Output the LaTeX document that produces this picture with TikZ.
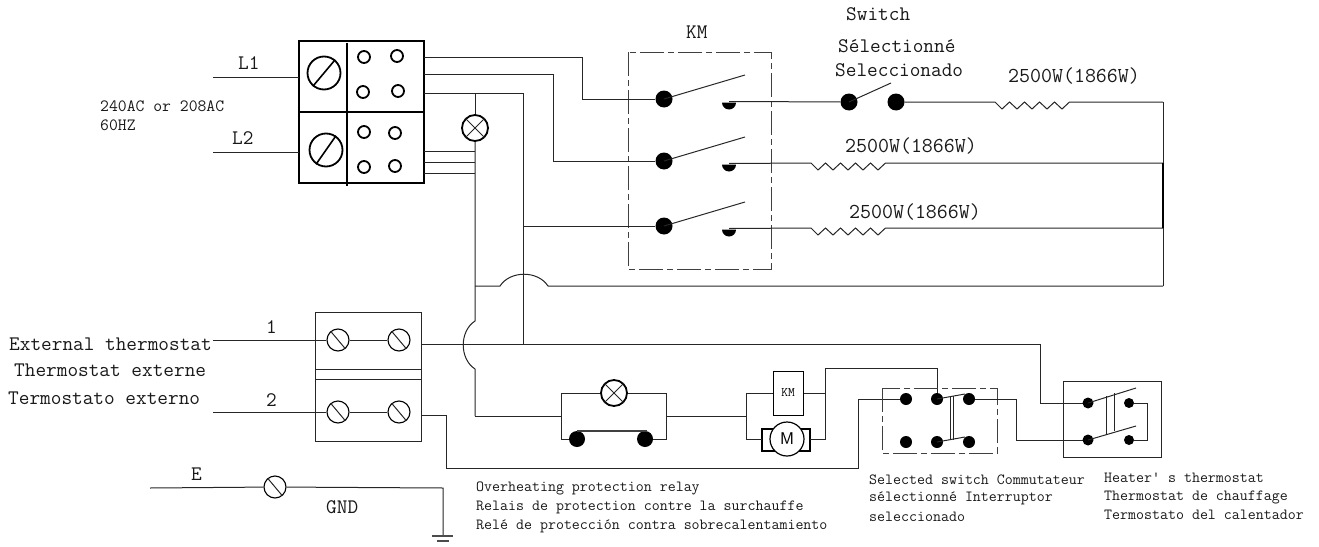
\documentclass[tikz,border=0pt]{standalone}
\newcommand{\bigtxt}{\ttfamily\fontsize{20.7}{24}\selectfont}
\newcommand{\wattxt}{\ttfamily\fontsize{21.3}{24}\selectfont}
\newcommand{\midtxt}{\ttfamily\fontsize{17.2}{20}\selectfont}
\newcommand{\smalltxt}{\ttfamily\fontsize{15.5}{19}\selectfont}
\newcommand{\tinytxt}{\ttfamily\fontsize{13}{14}\selectfont}
\newcommand{\zigzag}{ -- ++(7,7) -- ++(7.5,-7) -- ++(7.5,7) -- ++(7.5,-7) -- ++(7.5,7) -- ++(7.5,-7) -- ++(7.5,7) -- ++(7.5,-7) -- ++(7.5,7) -- ++(7.5,-7)}
\tikzset{
  wire/.style={line width=1pt,black!85},
  heavy/.style={line width=2pt,black},
  dashbox/.style={line width=1pt,black!75,dash pattern=on 24pt off 4pt on 6pt off 4pt},
  contact/.style={circle,fill=black,inner sep=0pt,minimum size=#1},
  bigscrew/.style={circle,draw,line width=1.8pt,inner sep=0pt,minimum size=33pt},
  hole/.style={circle,draw,line width=1.8pt,inner sep=0pt,minimum size=12pt},
  screw/.style={circle,draw,line width=1.1pt,inner sep=0pt,minimum size=22pt},
  lamp/.style={circle,draw,line width=1.8pt,inner sep=0pt,minimum size=26pt},
  lbl/.style={inner sep=0pt,anchor=west,text=black!90},
}
\begin{document}
\begin{tikzpicture}[x=1pt,y=-1pt]
\useasboundingbox (0,0) rectangle (1319,546);
% ---- main terminal block
\draw[heavy] (299,41) rectangle (424,183);
\draw[heavy] (299,112) -- (424,112);
\draw[line width=1.5pt] (347,43) -- (347,186);
\node[bigscrew] (S1) at (324,73) {};
\node[bigscrew] (S2) at (326,150) {};
\draw[line width=1.6pt] (S1.-130) -- (S1.50);
\draw[line width=1.6pt] (S2.-125) -- (S2.55);
\foreach \n/\x/\y in {a/364/57,b/397/56,c/363/92,d/398/91,e/364/132,f/395/133,g/364/167,h/395/166}
  \node[hole] (H\n) at (\x,\y) {};
\coordinate (L1s) at (213,77);
\coordinate (L2s) at (213,152);
\draw[wire] (L1s) -- (299,77);
\draw[wire] (L2s) -- (299,152);
\node[lbl,font=\bigtxt] (tL1) at (238,63) {L1};
\node[lbl,font=\bigtxt] (tL2) at (232,138) {L2};
\node[lbl,font=\midtxt] (tV1) at (100,106) {240AC or 208AC};
\node[lbl,font=\midtxt] (tV2) at (100,125) {60HZ};
% ---- KM contactor
\draw[dashbox] (628,52) rectangle (771,269);
\node[lbl,font=\bigtxt] (tKM) at (686,32) {KM};
\foreach \n/\y in {1/99,2/161,3/226}{
  \node[contact=17pt] (K\n) at (664,\y) {};
  \coordinate (B\n) at (745,\y-24);
  \draw[wire] (K\n.center) -- (B\n);
  \fill (722,\y+3.5) arc (180:0:7) -- cycle;
  \coordinate (R\n) at (729,\y+2.5);
}
\draw[wire] (424,57) -- (582,57) -- (582,99) -- (K1);
\draw[wire] (424,74) -- (553,74) -- (553,161) -- (K2);
\draw[wire] (424,93) -- (523,93) -- (523,344);
\draw[wire] (523,226) -- (K3);
% ---- heater branches
\node[contact=17pt] (W1) at (849,102) {};
\node[contact=17pt] (W2) at (896,102) {};
\draw[wire] (W1.center) -- (891,83);
\draw[wire] (R1) -- (W1);
\draw[wire] (W2) -- (995,102)\zigzag -- (1163,102);
\draw[wire] (R2) -- (811,163)\zigzag -- (1163,163);
\draw[wire] (R3) -- (811,228)\zigzag -- (1163,228);
\draw[wire] (1163,102) -- (1163,286);
\draw[line width=2pt] (1163,163) -- (1163,228);
\node[lbl,font=\bigtxt] (tSw) at (846,14) {Switch};
\node[lbl,font=\bigtxt] (tSe) at (838,46) {Sélectionné};
\node[lbl,font=\bigtxt] (tSc) at (835,70) {Seleccionado};
\node[lbl,font=\wattxt] (tP1) at (1008,76) {2500W(1866W)};
\node[lbl,font=\wattxt] (tP2) at (845,146) {2500W(1866W)};
\node[lbl,font=\wattxt] (tP3) at (849,212) {2500W(1866W)};
% ---- pilot lamp and bus
\node[lamp] (LP) at (475,128) {};
\draw[wire] (LP.45) -- (LP.-135) (LP.135) -- (LP.-45);
\draw[wire] (475,93) -- (LP);
\coordinate (J1) at (475,321);
\coordinate (J2) at (475,369);
\draw[wire] (LP) -- (J1) to[bend right=57] (J2) -- (475,416);
\foreach \y in {151,162,173} \draw[wire] (424,\y) -- (475,\y);
\coordinate (A1) at (500,286);
\coordinate (A2) at (548,286);
\draw[wire] (475,286) -- (A1) to[bend left=57] (A2) -- (1163,286);
% ---- external thermostat terminals
\draw[wire] (315,312) rectangle (421,441);
\draw[wire] (315,369) -- (421,369) (315,379) -- (421,379);
\node[screw] (T1) at (338,340) {};
\node[screw] (T2) at (399,340) {};
\node[screw] (T3) at (338,412) {};
\node[screw] (T4) at (399,412) {};
\foreach \n in {T1,T2,T3,T4} \draw[wire] (\n.130) -- (\n.-50);
\draw[wire] (213,340) -- (T1) (T1) -- (T2);
\draw[wire] (213,412) -- (T3) (T3) -- (T4);
\node[lbl,font=\bigtxt] (tN1) at (266,327) {1};
\node[lbl,font=\bigtxt] (tN2) at (266,400) {2};
\node[lbl,font=\bigtxt] (tE1) at (9,344) {External thermostat};
\node[lbl,font=\bigtxt] (tE2) at (14,370) {Thermostat externe};
\node[lbl,font=\bigtxt] (tE3) at (8,398) {Termostato externo};
\draw[wire] (421,344) -- (1040,344) -- (1040,403) -- (1083,403);
\draw[wire] (421,415) -- (446,415) -- (446,468) -- (858,468) -- (858,399) -- (900,399);
% ---- overheating relay
\node[lamp] (LR) at (614,393) {};
\draw[wire] (LR.45) -- (LR.-135) (LR.135) -- (LR.-45);
\node[contact=16pt] (C1) at (577,439) {};
\node[contact=16pt] (C2) at (645,439) {};
\draw[line width=1.5pt,black!75] (577,431) -- (647,431);
\draw[wire] (475,416) -- (561,416);
\draw[wire] (LR) -- (561,393) -- (561,439) -- (C1);
\draw[wire] (LR) -- (666,393) -- (666,439) -- (C2);
\draw[wire] (666,416) -- (746,416);
% ---- KM coil and motor
\node[draw,line width=1pt,minimum width=30pt,minimum height=44pt,inner sep=0pt] (COIL) at (788,393) {\tinytxt KM};
\draw[line width=1.5pt] (762,429) rectangle (810,451);
\node[circle,draw,fill=white,line width=1.2pt,minimum size=34pt,inner sep=0pt,font=\sffamily\fontsize{17}{18}\selectfont] (MOT) at (787,439) {M};
\draw[wire] (746,393) -- (746,439) -- (762,439);
\draw[wire] (746,393) -- (COIL.west);
\draw[wire] (COIL.east) -- (825,393);
\draw[wire] (810,439) -- (825,439) -- (825,368) -- (937,368) -- (937,399);
% ---- selected switch
\draw[dashbox] (882,388) rectangle (997,453);
\foreach \n/\x/\y in {a/906/399,b/937/399,c/969/399,d/906/442,e/937/442,f/969/442}
  \node[contact=12pt] (P\n) at (\x,\y) {};
\draw[wire] (Pb.center) -- (965,394);
\draw[wire] (Pe.center) -- (965,437);
\draw[wire] (950,396) -- (950,440) (953,396) -- (953,440);
\draw[wire] (Pc) -- (1016,399) -- (1016,440) -- (1083,440);
% ---- heater thermostat
\draw[wire] (1063,381) rectangle (1161,457);
\node[contact=11pt] (Qa) at (1088,403) {};
\node[contact=11pt] (Qb) at (1088,440) {};
\node[contact=10pt] (Qc) at (1129,403) {};
\node[contact=10pt] (Qd) at (1129,440) {};
\draw[wire] (Qa.center) -- (1136,388);
\draw[wire] (Qb.center) -- (1136,426);
\draw[wire] (1106,396) -- (1106,434) (1114,393) -- (1114,431);
\draw[wire] (Qc) -- (1147,403) -- (1147,440) -- (Qd);
% ---- ground
\node[screw] (G) at (275,487) {};
\draw[wire] (G.130) -- (G.-50);
\coordinate (Gs) at (150,488);
\draw[wire] (Gs) -- (G);
\draw[wire] (G) -- (443,488) -- (443,536);
\draw[line width=1.2pt,black!70] (432,536) -- (453,536);
\draw[line width=1.2pt,black!70] (437,541) -- (449,541);
\node[lbl,font=\bigtxt] (tE) at (191,474) {E};
\node[lbl,font=\bigtxt] (tG) at (326,507) {GND};
% ---- captions
\node[lbl,font=\smalltxt] (c1) at (476,488) {Overheating protection relay};
\node[lbl,font=\smalltxt] (c2) at (476,507) {Relais de protection contre la surchauffe};
\node[lbl,font=\smalltxt] (c3) at (476,526) {Relé de protección contra sobrecalentamiento};
\node[lbl,font=\smalltxt] (c4) at (869,480) {Selected switch Commutateur};
\node[lbl,font=\smalltxt] (c5) at (869,498) {sélectionné Interruptor};
\node[lbl,font=\smalltxt] (c6) at (869,517) {seleccionado};
\node[lbl,font=\smalltxt] (c7) at (1104,478) {Heater' s thermostat};
\node[lbl,font=\smalltxt] (c8) at (1104,497) {Thermostat de chauffage};
\node[lbl,font=\smalltxt] (c9) at (1104,515) {Termostato del calentador};
\end{tikzpicture}
\end{document}
